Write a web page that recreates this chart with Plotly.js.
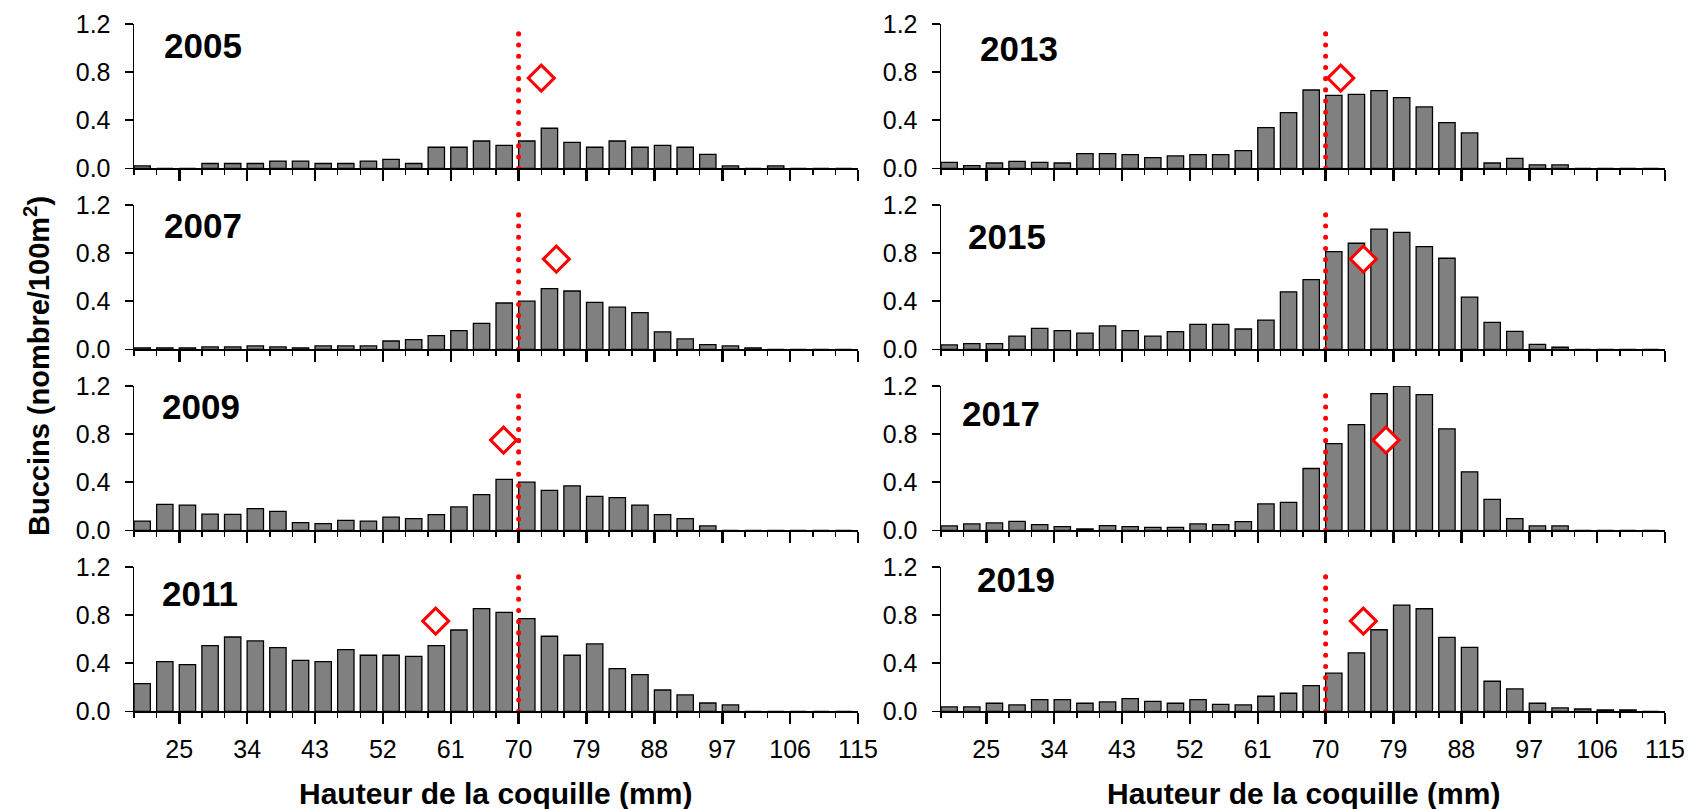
<!DOCTYPE html>
<html><head><meta charset="utf-8">
<script src="https://cdn.plot.ly/plotly-3.0.1.min.js"></script>
<style>
html,body{margin:0;padding:0;background:#fff;}
#chart{width:1688px;height:809px;}
.scatterlayer .js-line{stroke-linecap:round;}
</style></head><body><div id="chart"></div>
<script>
// ---- data ----
const years = ['2005','2007','2009','2011','2013','2015','2017','2019'];
const bins = [19,22,25,28,31,34,37,40,43,46,49,52,55,58,61,64,67,70,73,76,79,82,85,88,91,94,97,100,103,106,109,112];
const y2005 = [0.02,0,0,0.04,0.04,0.04,0.06,0.06,0.04,0.04,0.06,0.075,0.04,0.175,0.175,0.227,0.19,0.227,0.333,0.216,0.175,0.227,0.175,0.19,0.175,0.116,0.02,0,0.02,0,0,0];
const y2007 = [0.012,0.012,0.012,0.02,0.02,0.028,0.02,0.012,0.028,0.028,0.028,0.069,0.08,0.114,0.155,0.216,0.385,0.40,0.505,0.485,0.39,0.35,0.305,0.145,0.086,0.039,0.028,0.012,0,0,0,0];
const y2009 = [0.077,0.216,0.21,0.135,0.133,0.18,0.158,0.064,0.055,0.083,0.077,0.11,0.097,0.13,0.194,0.296,0.423,0.40,0.332,0.37,0.282,0.271,0.21,0.13,0.097,0.036,0,0,0,0,0,0];
const y2011 = [0.23,0.413,0.388,0.546,0.618,0.585,0.53,0.424,0.413,0.513,0.466,0.466,0.457,0.546,0.676,0.854,0.823,0.77,0.624,0.466,0.56,0.355,0.305,0.177,0.136,0.069,0.053,0,0,0,0,0];
const y2013 = [0.05,0.022,0.044,0.058,0.05,0.044,0.122,0.122,0.114,0.089,0.103,0.114,0.114,0.147,0.338,0.463,0.651,0.607,0.615,0.646,0.588,0.51,0.38,0.294,0.044,0.083,0.028,0.028,0,0,0,0];
const y2015 = [0.036,0.047,0.047,0.11,0.174,0.155,0.135,0.194,0.155,0.11,0.147,0.207,0.207,0.169,0.243,0.478,0.58,0.813,0.882,1.0,0.973,0.854,0.757,0.434,0.224,0.149,0.041,0.017,0,0,0,0];
const y2017 = [0.036,0.053,0.061,0.075,0.047,0.03,0.011,0.039,0.03,0.025,0.025,0.053,0.047,0.072,0.219,0.233,0.514,0.72,0.878,1.136,1.2,1.128,0.844,0.486,0.258,0.097,0.036,0.036,0,0,0,0];
const y2019 = [0.036,0.036,0.067,0.053,0.097,0.097,0.067,0.078,0.106,0.083,0.067,0.097,0.058,0.053,0.125,0.15,0.214,0.317,0.486,0.678,0.883,0.853,0.614,0.531,0.25,0.186,0.067,0.028,0.019,0.011,0.011,0];
const series = [y2005,y2007,y2009,y2011,y2013,y2015,y2017,y2019];
const meanX = [73,75,68,59,72,75,78,75];
const meanY = [0.75,0.75,0.75,0.75,0.75,0.75,0.75,0.75];
const legalSize = 70;
const legalLineY = [0,1.12];
const xTitle = 'Hauteur de la coquille (mm)';
const yTitle = 'Buccins (nombre/100m<sup>2</sup>)';

// ---- layout geometry (pixels) ----
const W = 1688, H = 809;
const colX = [[134,858],[941,1665]];
const rowY = [[24,168.3],[205,349.3],[386,530.3],[567,711.3]];
const labelPos = [[28.1,1.02],[28.2,1.03],[27.9,1.03],[27.8,0.98],[29.3,1.0],[27.7,0.94],[27.0,0.97],[29.0,1.1]];
const FONT = 'Liberation Sans, Arial, sans-serif';

const traces = [];
const layout = {
  width: W, height: H, margin:{l:0,r:0,t:0,b:0},
  paper_bgcolor:'#fff', plot_bgcolor:'rgba(0,0,0,0)',
  showlegend:false, bargap:0, font:{family:FONT, color:'#000'},
  annotations:[]
};

for (let i=0;i<8;i++){
  const col = i<4?0:1, row = i%4, n = i+1;
  const xs = n===1?'':String(n);
  const xref = 'x'+xs, yref = 'y'+xs;
  traces.push({type:'bar', x:bins, y:series[i], xaxis:xref, yaxis:yref,
    offset:0, width:2.17, marker:{color:'#808080', line:{color:'#000', width:1.3}},
    hoverinfo:'skip'});
  traces.push({type:'scatter', mode:'lines', x:[legalSize,legalSize], y:legalLineY, xaxis:xref, yaxis:yref,
    line:{color:'#ff0000', width:5, dash:'0.1px,11.1px'}, hoverinfo:'skip'});
  traces.push({type:'scatter', mode:'markers', x:[meanX[i]], y:[meanY[i]], xaxis:xref, yaxis:yref,
    marker:{symbol:'diamond', size:20, color:'#fff', line:{color:'#ff0000', width:3}}, hoverinfo:'skip'});
  const bottom = row===3;
  layout['xaxis'+xs] = {
    domain:[colX[col][0]/W, colX[col][1]/W], anchor:yref, range:[19,115],
    showline:true, linecolor:'#000', linewidth:1.5, showgrid:false, zeroline:false,
    ticks:'outside', tickmode:'linear', tick0:25, dtick:9, ticklen:11, tickwidth:2.5, tickcolor:'#000',
    showticklabels:bottom, tickfont:{family:FONT, size:25, color:'#000'}, ticklabelstandoff:4,
    minor:{tickmode:'linear', tick0:19, dtick:3, ticks:'outside', ticklen:5, tickwidth:1.5, tickcolor:'#000', showgrid:false},
    fixedrange:true
  };
  layout['yaxis'+xs] = {
    domain:[1-rowY[row][1]/H, 1-rowY[row][0]/H], anchor:xref, range:[0,1.2],
    showline:true, linecolor:'#000', linewidth:1.5, showgrid:false, zeroline:false,
    ticks:'outside', tickmode:'linear', tick0:0, dtick:0.4, tickformat:'.1f', ticklen:8, tickwidth:1.5, tickcolor:'#000',
    tickfont:{family:FONT, size:25, color:'#000'}, ticklabelstandoff:9, fixedrange:true
  };
  layout.annotations.push({xref:xref, yref:yref, x:labelPos[i][0], y:labelPos[i][1], text:'<b>'+years[i]+'</b>',
    showarrow:false, xanchor:'center', yanchor:'middle', font:{family:FONT, size:35, color:'#000'}});
}
// axis titles
layout.annotations.push({xref:'paper', yref:'paper', x:(colX[0][0]+colX[0][1])/2/W, y:1-793/H, text:'<b>'+xTitle+'</b>',
  showarrow:false, xanchor:'center', yanchor:'middle', font:{family:FONT, size:30, color:'#000'}});
layout.annotations.push({xref:'paper', yref:'paper', x:(colX[1][0]+colX[1][1])/2/W, y:1-793/H, text:'<b>'+xTitle+'</b>',
  showarrow:false, xanchor:'center', yanchor:'middle', font:{family:FONT, size:30, color:'#000'}});
layout.annotations.push({xref:'paper', yref:'paper', x:37/W, y:1-366/H, text:'<b>'+yTitle+'</b>', textangle:-90,
  showarrow:false, xanchor:'center', yanchor:'middle', font:{family:FONT, size:29, color:'#000'}});

Plotly.newPlot('chart', traces, layout, {displayModeBar:false, staticPlot:true});
</script></body></html>
